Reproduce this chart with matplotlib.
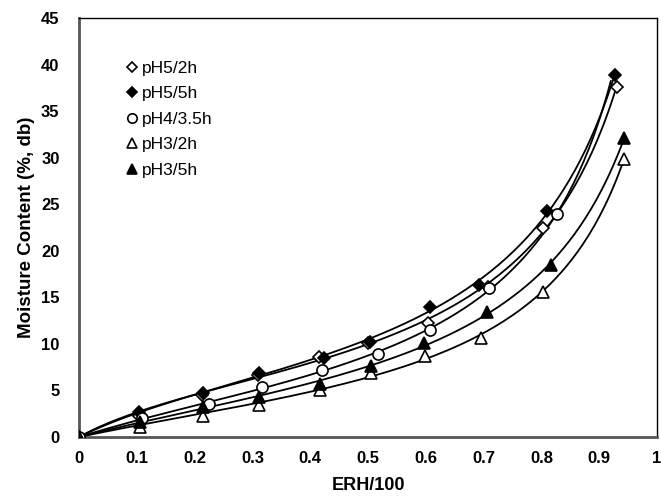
import numpy as np
import matplotlib
matplotlib.use("Agg")
import matplotlib.pyplot as plt

plt.rcParams['font.family'] = ['Liberation Sans', 'DejaVu Sans']

# Data (ERH/100, moisture content %)
x_p5_2h = [0, 0.104, 0.213, 0.31, 0.415, 0.50, 0.604, 0.708, 0.803, 0.93]
y_p5_2h = [0, 2.3, 4.5, 6.7, 8.6, 10.1, 12.2, 16.1, 22.4, 37.6]

x_p5_5h = [0, 0.104, 0.215, 0.311, 0.424, 0.503, 0.607, 0.692, 0.81, 0.927]
y_p5_5h = [0, 2.7, 4.7, 6.9, 8.5, 10.2, 14.0, 16.3, 24.3, 38.9]

x_p4_35h = [0, 0.109, 0.225, 0.317, 0.42, 0.517, 0.607, 0.71, 0.827]
y_p4_35h = [0, 2.0, 3.5, 5.4, 7.2, 8.9, 11.5, 16.0, 24.0]

x_p3_2h = [0, 0.105, 0.215, 0.311, 0.417, 0.505, 0.599, 0.696, 0.803, 0.943]
y_p3_2h = [0, 1.1, 2.3, 3.4, 5.1, 6.9, 8.7, 10.6, 15.6, 29.9]

x_p3_5h = [0, 0.105, 0.215, 0.311, 0.417, 0.505, 0.597, 0.706, 0.817, 0.943]
y_p3_5h = [0, 1.6, 3.2, 4.3, 5.7, 7.6, 10.1, 13.4, 18.5, 32.1]

labels = ['pH5/2h', 'pH5/5h', 'pH4/3.5h', 'pH3/2h', 'pH3/5h']
curve_end = [0.93, 0.927, 0.92, 0.943, 0.943]


def gab_fit(xs, ys, x_end):
    # GAB model in its quadratic form: aw/M = a*aw^2 + b*aw + c
    # weighted so the residuals behave like residuals in M
    xs = np.array(xs[1:])
    ys = np.array(ys[1:])
    coef = np.polyfit(xs, xs / ys, 2, w=ys ** 2 / xs)
    aw = np.linspace(0, x_end, 200)
    return aw, aw / np.polyval(coef, aw)


fig = plt.figure(figsize=(6.61, 4.97), dpi=100)
ax = fig.add_axes([0.1195, 0.1207, 0.8745, 0.8431])

series = [
    (x_p5_2h, y_p5_2h, dict(marker='D', mfc='white', ms=6)),
    (x_p5_5h, y_p5_5h, dict(marker='D', mfc='black', ms=6)),
    (x_p4_35h, y_p4_35h, dict(marker='o', mfc='white', ms=8)),
    (x_p3_2h, y_p3_2h, dict(marker='^', mfc='white', ms=8)),
    (x_p3_5h, y_p3_5h, dict(marker='^', mfc='black', ms=8)),
]

for (xs, ys, style), lab, xe in zip(series, labels, curve_end):
    aw, m = gab_fit(xs, ys, xe)
    ax.plot(aw, m, color='black', lw=1.3, zorder=2)
    ax.plot(xs, ys, linestyle='none', mec='black', mew=1.2,
            label=lab, zorder=3, **style)

ax.set_xlim(0, 1)
ax.set_ylim(0, 45)
ax.set_xticks(np.arange(0, 1.01, 0.1))
ax.set_xticklabels(['0', '0.1', '0.2', '0.3', '0.4', '0.5', '0.6', '0.7',
                    '0.8', '0.9', '1'])
ax.set_yticks(range(0, 46, 5))
ax.tick_params(length=0, labelsize=12)
ax.tick_params(axis='x', pad=10)
ax.tick_params(axis='y', pad=14)
for t in ax.get_xticklabels() + ax.get_yticklabels():
    t.set_fontweight('bold')

ax.set_xlabel('ERH/100', fontsize=13, fontweight='bold', labelpad=8)
ax.set_ylabel('Moisture Content (%, db)', fontsize=13.5, fontweight='bold',
              labelpad=4)

for side in ['left', 'bottom']:
    ax.spines[side].set_color('#555555')
    ax.spines[side].set_linewidth(2)
for side in ['top', 'right']:
    ax.spines[side].set_color('black')
    ax.spines[side].set_linewidth(1)

ax.legend(loc='upper left', bbox_to_anchor=(0.07, 0.915), frameon=False,
          fontsize=12.5, handlelength=0.6, handletextpad=0.3,
          labelspacing=0.6, borderaxespad=0, markerscale=0.85)

fig.savefig('out.png', dpi=100)
